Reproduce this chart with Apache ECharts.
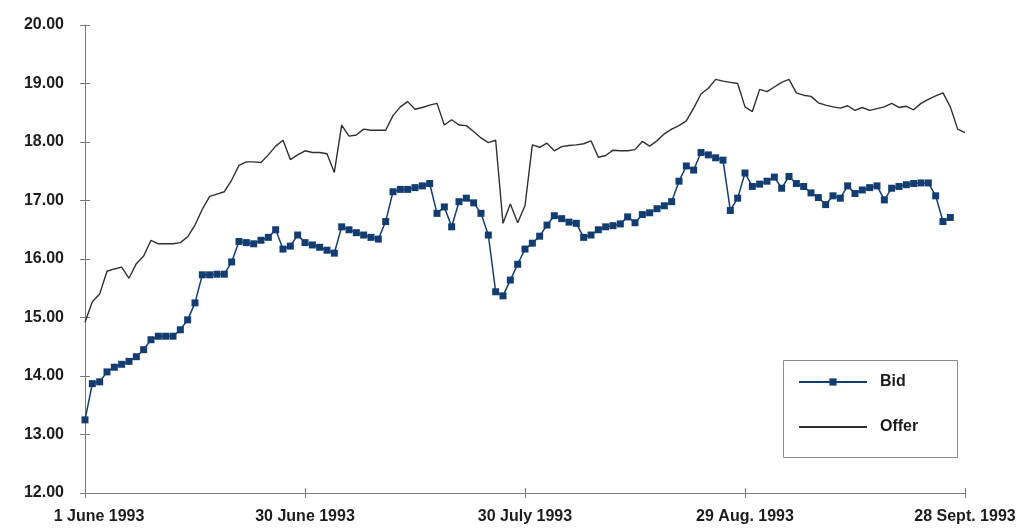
<!DOCTYPE html>
<html>
<head>
<meta charset="utf-8">
<title>Bid / Offer 1993</title>
<script src="https://cdn.jsdelivr.net/npm/echarts@6/dist/echarts.min.js"></script>
<style>
  html, body { margin: 0; padding: 0; background: #ffffff; }
  #chart { width: 1028px; height: 528px; }
</style>
</head>
<body>
<div id="chart"></div>
<script>
// Daily quotes from 1 June 1993 (day 0) to 28 Sept. 1993 (day 120)
const tickLabels = ['1 June 1993', '30 June 1993', '30 July 1993', '29 Aug. 1993', '28 Sept. 1993'];

const bid = [
  13.25, 13.87, 13.90, 14.07, 14.15, 14.20, 14.25, 14.33, 14.45, 14.62,
  14.68, 14.68, 14.68, 14.79, 14.96, 15.25, 15.73, 15.73, 15.74, 15.74,
  15.95, 16.30, 16.28, 16.26, 16.32, 16.37, 16.50, 16.17, 16.22, 16.41,
  16.28, 16.24, 16.20, 16.15, 16.10, 16.55, 16.50, 16.45, 16.41, 16.37,
  16.34, 16.64, 17.15, 17.19, 17.19, 17.22, 17.25, 17.29, 16.78, 16.89,
  16.55, 16.98, 17.04, 16.96, 16.78, 16.41, 15.44, 15.37, 15.64, 15.91,
  16.17, 16.27, 16.39, 16.58, 16.74, 16.69, 16.63, 16.61, 16.37, 16.41,
  16.50, 16.55, 16.57, 16.60, 16.72, 16.62, 16.76, 16.79, 16.86, 16.91,
  16.98, 17.33, 17.59, 17.52, 17.82, 17.78, 17.73, 17.69, 16.83, 17.04,
  17.47, 17.24, 17.28, 17.33, 17.40, 17.21, 17.41, 17.29, 17.24, 17.13,
  17.05, 16.93, 17.08, 17.04, 17.25, 17.12, 17.18, 17.22, 17.25, 17.01,
  17.21, 17.24, 17.27, 17.29, 17.30, 17.30, 17.08, 16.64, 16.71, null,
  null
];

const offer = [
  14.92, 15.27, 15.40, 15.79, 15.83, 15.86, 15.67, 15.92, 16.05, 16.32,
  16.26, 16.26, 16.26, 16.28, 16.38, 16.58, 16.85, 17.07, 17.11, 17.15,
  17.35, 17.60, 17.66, 17.66, 17.65, 17.78, 17.93, 18.03, 17.70, 17.78,
  17.85, 17.82, 17.82, 17.80, 17.48, 18.29, 18.10, 18.12, 18.22, 18.20,
  18.20, 18.20, 18.45, 18.60, 18.69, 18.56, 18.59, 18.63, 18.66, 18.29,
  18.38, 18.29, 18.28, 18.18, 18.07, 17.99, 18.03, 16.61, 16.94, 16.62,
  16.91, 17.95, 17.91, 17.98, 17.85, 17.92, 17.94, 17.95, 17.97, 18.02,
  17.74, 17.77, 17.86, 17.85, 17.85, 17.87, 18.01, 17.93, 18.02, 18.14,
  18.22, 18.28, 18.36, 18.58, 18.82, 18.92, 19.07, 19.04, 19.02, 19.00,
  18.60, 18.52, 18.90, 18.86, 18.94, 19.02, 19.07, 18.84, 18.80, 18.78,
  18.67, 18.63, 18.60, 18.58, 18.62, 18.54, 18.59, 18.54, 18.57, 18.60,
  18.66, 18.59, 18.61, 18.55, 18.66, 18.73, 18.79, 18.84, 18.60, 18.22,
  18.16
];

const BID_COLOR = '#133d70';
const OFFER_COLOR = '#2f2f2f';
const AXIS_COLOR = '#7a7a7a';
const TEXT_COLOR = '#1c1c1c';
const FONT = 'Liberation Sans, Arial, sans-serif';

const toPairs = arr => arr.map((v, i) => [i, v]);

const chart = echarts.init(document.getElementById('chart'), null, { renderer: 'canvas' });

const xBase = {
  type: 'value', min: 0, max: 120, interval: 30,
  splitLine: { show: false }
};
const yBase = {
  type: 'value', min: 12, max: 20, interval: 1,
  splitLine: { show: false }
};

chart.setOption({
  animation: false,
  backgroundColor: '#ffffff',
  grid: { left: 85, right: 63, top: 25, bottom: 35 },
  xAxis: [
    Object.assign({}, xBase, {
      axisLine: { lineStyle: { color: AXIS_COLOR, width: 1 } },
      axisTick: { length: 5, lineStyle: { color: AXIS_COLOR } },
      axisLabel: {
        margin: 16,
        color: TEXT_COLOR,
        fontFamily: FONT,
        fontWeight: 'bold',
        fontSize: 16,
        formatter: v => {
          const k = Math.round(v / 30);
          return k === 0 ? '{first|' + tickLabels[0] + '}' : tickLabels[k];
        },
        rich: {
          first: {
            padding: [0, 0, 0, 28],
            color: TEXT_COLOR, fontFamily: FONT, fontWeight: 'bold', fontSize: 16
          }
        }
      }
    }),
    // inner half of the crossing tick marks
    Object.assign({}, xBase, {
      position: 'bottom',
      axisLine: { show: false },
      axisTick: { inside: true, length: 5, lineStyle: { color: AXIS_COLOR } },
      axisLabel: { show: false }
    })
  ],
  yAxis: [
    Object.assign({}, yBase, {
      axisLine: { show: true, lineStyle: { color: AXIS_COLOR, width: 1 } },
      axisTick: { show: true, length: 5, lineStyle: { color: AXIS_COLOR } },
      axisLabel: {
        margin: 21,
        color: TEXT_COLOR,
        fontFamily: FONT,
        fontWeight: 'bold',
        fontSize: 16,
        formatter: v => v.toFixed(2)
      }
    }),
    Object.assign({}, yBase, {
      position: 'left',
      axisLine: { show: false },
      axisTick: { show: true, inside: true, length: 5, lineStyle: { color: AXIS_COLOR } },
      axisLabel: { show: false }
    })
  ],
  legend: {
    orient: 'vertical',
    left: 793,
    top: 369,
    itemWidth: 68,
    itemHeight: 9,
    itemGap: 29,
    selectedMode: false,
    textStyle: {
      color: TEXT_COLOR, fontFamily: FONT, fontWeight: 'bold', fontSize: 16,
      padding: [0, 0, 0, 8]
    },
    data: [
      { name: 'Bid' },
      { name: 'Offer', itemStyle: { opacity: 0 } }
    ]
  },
  graphic: [{
    type: 'rect',
    left: 783, top: 360,
    shape: { width: 174, height: 97 },
    style: { fill: 'rgba(0,0,0,0)', stroke: '#8c8c8c', lineWidth: 1 },
    z: 0
  }],
  series: [
    {
      name: 'Bid',
      type: 'line',
      data: toPairs(bid),
      symbol: 'rect',
      symbolSize: 7,
      showSymbol: true,
      connectNulls: false,
      lineStyle: { color: BID_COLOR, width: 1.5 },
      itemStyle: { color: BID_COLOR },
      z: 3
    },
    {
      name: 'Offer',
      type: 'line',
      data: toPairs(offer),
      symbol: 'none',
      lineStyle: { color: OFFER_COLOR, width: 1.4 },
      itemStyle: { color: OFFER_COLOR },
      z: 2
    }
  ]
});
</script>
</body>
</html>
